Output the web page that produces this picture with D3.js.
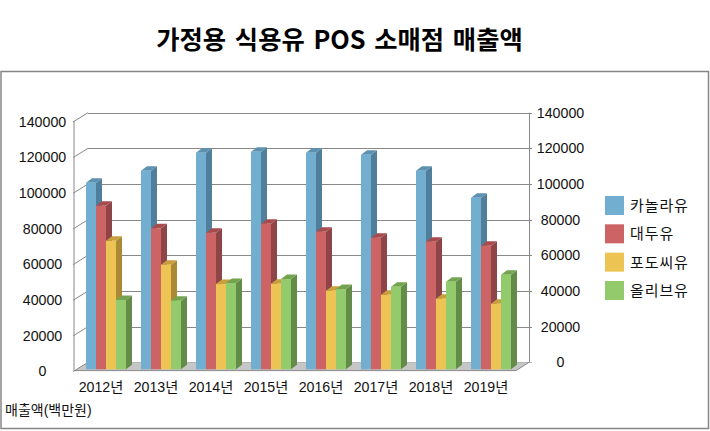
<!DOCTYPE html>
<html>
<head>
<meta charset="utf-8">
<script src="https://cdn.jsdelivr.net/npm/d3@7"></script>
<style>
  html, body { margin: 0; padding: 0; background: #fff; }
  svg { display: block; }
  text { font-family: "Liberation Sans", "Noto Sans CJK KR", sans-serif; fill: #111; }
  .title { font-family: "Noto Sans CJK KR", sans-serif; font-weight: 700; font-size: 25.3px; fill: #000; }
  .axis text { font-size: 14.2px; }
  .axis path, .axis line { display: none; }
</style>
</head>
<body>
<svg width="710" height="431"></svg>
<script>
const years = ["2012년", "2013년", "2014년", "2015년", "2016년", "2017년", "2018년", "2019년"];
const seriesNames = ["카놀라유", "대두유", "포도씨유", "올리브유"];
const canola = [104600, 111400, 121500, 122000, 121500, 120400, 111400, 96200];
const soybean = [91700, 79100, 76600, 81700, 77200, 73800, 71600, 69300];
const grapeseed = [72100, 58700, 47800, 48000, 44100, 41800, 39600, 36800];
const olive = [38900, 38500, 48400, 50600, 45000, 46300, 49100, 53100];
const seriesValues = [canola, soybean, grapeseed, olive];
const yTicks = [0, 20000, 40000, 60000, 80000, 100000, 120000, 140000];
const frontColors = ["#71aecf", "#cc6364", "#edc353", "#93ca6b"];
const sideColors = ["#4f7f9b", "#8f4547", "#ab8a35", "#648c49"];
const topColors = ["#5d91b0", "#a84b4d", "#c89f3c", "#72a44f"];

const svg = d3.select("svg");

// outer chart frame
svg
  .append("rect")
  .attr("x", 1)
  .attr("y", 71.5)
  .attr("width", 707.5)
  .attr("height", 357)
  .attr("fill", "#fff")
  .attr("stroke", "#868686")
  .attr("stroke-width", 1.5);

svg
  .append("text")
  .attr("class", "title")
  .attr("x", 339.5)
  .attr("y", 49)
  .attr("text-anchor", "middle")
  .attr("word-spacing", 3)
  .text("가정용 식용유 POS 소매점 매출액");

// depth of the fake 3d walls and of the bars
const wallDx = 13;
const wallDy = 8.3;
const barDx = 6;
const barDy = 4.5;

const scaleFront = d3.scaleLinear().domain([0, 140000]).range([370.6, 121]);
const scaleBack = d3.scaleLinear().domain([0, 140000]).range([362.3, 112.7]);
const scaleBar = d3.scaleLinear().domain([0, 140000]).range([369.3, 119.7]);

const scaleX = d3.scaleBand().domain(years).range([75, 515]);
const scaleSeries = d3.scaleBand().domain(seriesNames).range([11, 51]);

const x0 = scaleX.range()[0];
const x1 = scaleX.range()[1];
const grid = "#888";

// floor
svg
  .append("path")
  .attr("d", `M${x0},${scaleFront(0)}L${x0 + wallDx},${scaleBack(0)}L${x1 + wallDx + 1},${scaleBack(0)}L${x1 + 1},${scaleFront(0)}Z`)
  .attr("fill", "#c6c6c6");

// gridlines on the back wall and on the left wall
svg
  .selectAll("line.grid")
  .data(yTicks)
  .enter()
  .append("line")
  .attr("class", "grid")
  .attr("x1", x0 + wallDx)
  .attr("x2", x1 + wallDx + 4)
  .attr("y1", d => Math.round(scaleBack(d)) + 0.5)
  .attr("y2", d => Math.round(scaleBack(d)) + 0.5)
  .attr("stroke", d => (d === 0 ? "#b5b5b5" : grid));

svg
  .selectAll("line.side-grid")
  .data(yTicks)
  .enter()
  .append("line")
  .attr("class", "side-grid")
  .attr("x1", x0 - 2)
  .attr("x2", x0 + wallDx)
  .attr("y1", d => scaleFront(d) + 1)
  .attr("y2", d => scaleBack(d))
  .attr("stroke", grid);

// wall edges
svg
  .append("line")
  .attr("x1", x0 - 1)
  .attr("x2", x0 - 1)
  .attr("y1", scaleFront(140000))
  .attr("y2", scaleFront(0))
  .attr("stroke", grid);
svg
  .append("line")
  .attr("x1", x1 + wallDx + 1.5)
  .attr("x2", x1 + wallDx + 1.5)
  .attr("y1", scaleBack(140000))
  .attr("y2", scaleBack(0))
  .attr("stroke", grid);

// floor edges
svg
  .append("line")
  .attr("x1", x0 - 1)
  .attr("x2", x1 + 1)
  .attr("y1", scaleFront(0))
  .attr("y2", scaleFront(0))
  .attr("stroke", grid);
svg
  .append("line")
  .attr("x1", x1 + 1)
  .attr("x2", x1 + wallDx + 1)
  .attr("y1", scaleFront(0))
  .attr("y2", scaleBack(0))
  .attr("stroke", grid);

// bars, left to right so the nearer faces cover the sides
const groups = svg
  .selectAll("g.year")
  .data(years)
  .enter()
  .append("g")
  .attr("class", "year")
  .attr("transform", d => `translate(${scaleX(d)},0)`);

seriesNames.forEach((name, s) => {
  const bw = scaleSeries.bandwidth();
  const bx = scaleSeries(name);
  const top = i => scaleBar(seriesValues[s][i]);
  const bottom = scaleBar(0);

  groups
    .append("path")
    .attr("d", (d, i) => `M${bx + bw},${top(i)}L${bx + bw + barDx},${top(i) - barDy}L${bx + bw + barDx},${bottom - barDy}L${bx + bw},${bottom}Z`)
    .attr("fill", sideColors[s]);

  groups
    .append("path")
    .attr("d", (d, i) => `M${bx},${top(i)}L${bx + barDx},${top(i) - barDy}L${bx + bw + barDx},${top(i) - barDy}L${bx + bw},${top(i)}Z`)
    .attr("fill", topColors[s]);

  groups
    .append("rect")
    .attr("x", bx)
    .attr("y", (d, i) => top(i))
    .attr("width", bw)
    .attr("height", (d, i) => bottom - top(i))
    .attr("fill", frontColors[s]);
});

// axes: labels are centred in their column like the original
const axisLeft = d3.axisLeft(scaleFront).tickValues(yTicks).tickSize(0).tickFormat(d3.format("d"));
const axisRight = d3.axisRight(scaleBack).tickValues(yTicks).tickSize(0).tickFormat(d3.format("d"));

svg.append("g").attr("class", "axis").attr("transform", "translate(0,0.6)").call(axisLeft)
  .selectAll("text").attr("x", 42.5).attr("text-anchor", "middle");
svg.append("g").attr("class", "axis").attr("transform", "translate(0,0)").call(axisRight)
  .selectAll("text").attr("x", 560.5).attr("text-anchor", "middle");

const axisBottom = d3.axisBottom(scaleX).tickSize(0).tickPadding(0);
svg.append("g").attr("class", "axis").attr("transform", "translate(-1.5,382)").call(axisBottom);

svg
  .append("text")
  .attr("x", 5)
  .attr("y", 415)
  .attr("font-size", 14)
  .text("매출액(백만원)");

// legend
const legendY = d3.scalePoint().domain(seriesNames).range([196, 281]);

const legend = svg
  .selectAll("g.legend")
  .data(seriesNames)
  .enter()
  .append("g")
  .attr("class", "legend")
  .attr("transform", d => `translate(605,${legendY(d)})`);

legend
  .append("rect")
  .attr("width", 19)
  .attr("height", 19)
  .attr("fill", (d, i) => frontColors[i]);

legend
  .append("text")
  .attr("x", 25)
  .attr("y", 15)
  .attr("font-size", 15)
  .attr("letter-spacing", 0.9)
  .text(d => d);
</script>
</body>
</html>
